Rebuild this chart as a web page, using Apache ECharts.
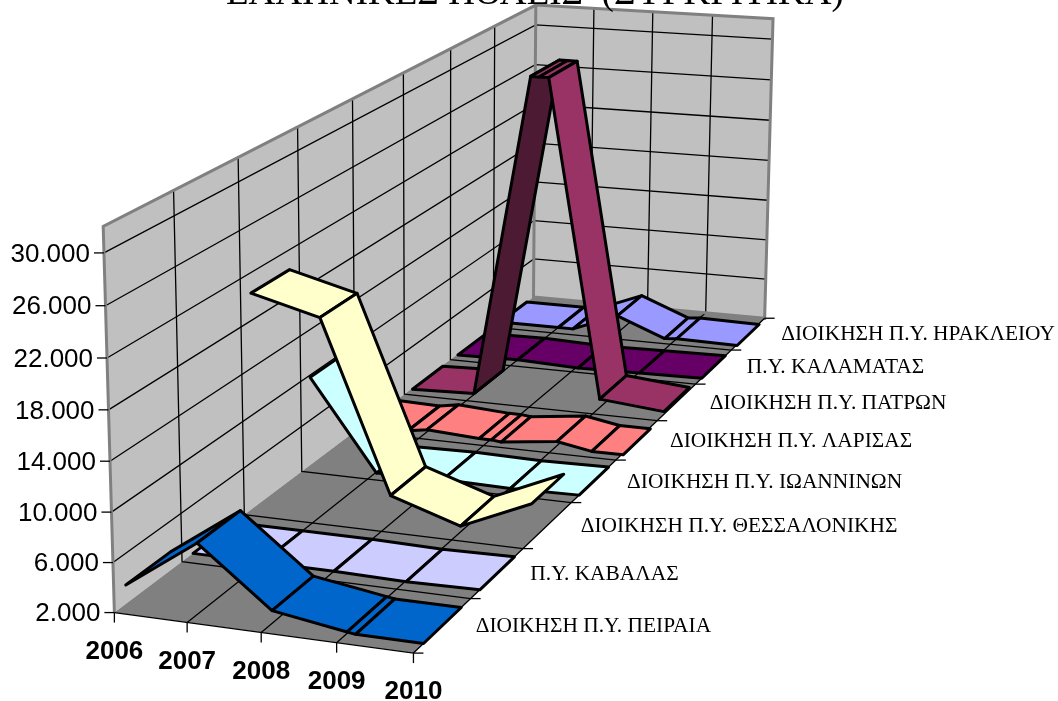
<!DOCTYPE html><html><head><meta charset="utf-8"><style>html,body{margin:0;background:#fff}#c{width:1058px;height:701px}</style>
<script src="https://cdn.jsdelivr.net/npm/echarts@6/dist/echarts.min.js"></script></head><body><div id="c"></div><script>
// ---------- data ----------
const YEARS=[2006,2007,2008,2009,2010];
const VALUE_TICKS=[2000,6000,10000,14000,18000,22000,26000,30000];
const VALUE_MIN=2000, VALUE_MAX=32000;
const SERIES_NAMES=['ΔΙΟΙΚΗΣΗ Π.Υ. ΠΕΙΡΑΙΑ','Π.Υ. ΚΑΒΑΛΑΣ','ΔΙΟΙΚΗΣΗ Π.Υ. ΘΕΣΣΑΛΟΝΙΚΗΣ','ΔΙΟΙΚΗΣΗ Π.Υ. ΙΩΑΝΝΙΝΩΝ','ΔΙΟΙΚΗΣΗ Π.Υ. ΛΑΡΙΣΑΣ','ΔΙΟΙΚΗΣΗ Π.Υ. ΠΑΤΡΩΝ','Π.Υ. ΚΑΛΑΜΑΤΑΣ','ΔΙΟΙΚΗΣΗ Π.Υ. ΗΡΑΚΛΕΙΟΥ'];
const PIRAEUS=[3500,7600,3000,2100,2000];
const KAVALA=[2000,2000,2000,1900,2000];
const THESSALONIKI=[20300,18800,4400,2500,5100];
const IOANNINA=[9800,1900,2000,1900,2000];
const LARISA=[2000,2200,1900,2400,1850];
const PATRAS=[1900,2100,32000,2800,2250];
const KALAMATA=[1900,2000,1800,1900,2000];
const HERAKLION=[2000,2000,3750,2000,1900];
const SERIES_VALUES=[PIRAEUS,KAVALA,THESSALONIKI,IOANNINA,LARISA,PATRAS,KALAMATA,HERAKLION];
// extra folds of a ribbon between years: [series index, year position, value]
const FOLDS=[[0,2009.11,2000],[4,2006.7,1900],[4,2007.81,1900],[4,2008.15,1800],[4,2009.53,1850],[5,2007.87,32000],[5,2008.15,32000],[7,2007.25,2000],[7,2008.8,1900]];
const COLORS=['#0066CC','#CCCCFF','#FFFFCC','#CCFFFF','#FF8080','#993366','#660066','#9999FF'];
const STEEP_COLOR='#4D1A33';
const TITLE='ΕΛΛΗΝΙΚΕΣ ΠΟΛΕΙΣ  (ΣΥΓΚΡΙΤΙΚΑ)';
// ---------- perspective camera: box corners [u,v,w] seen at [x,y] ----------
const CAMERA=[[0,0,0,115,613],[1,0,0,413,653],[1,1,0,765,318],[0,1,0,533,297],[0,0,1,103,226],[1,1,1,773,19],[0,1,1,536,5]];
const BAND_FRONT=0.17, BAND_BACK=0.83;
function solve(A,b){const n=b.length;A=A.map((r,i)=>[...r,b[i]]);for(let i=0;i<n;i++){let p=i;for(let k=i;k<n;k++)if(Math.abs(A[k][i])>Math.abs(A[p][i]))p=k;[A[i],A[p]]=[A[p],A[i]];for(let k=0;k<n;k++)if(k!=i){const f=A[k][i]/A[i][i];for(let j=i;j<=n;j++)A[k][j]-=f*A[i][j];}}return A.map((r,i)=>r[n]/r[i]);}
const P=(function(){const M=[],R=[];CAMERA.forEach(([u,v,w,x,y])=>{M.push([u,v,w,1,0,0,0,0,-x*u,-x*v,-x*w]);R.push(x);M.push([0,0,0,0,u,v,w,1,-y*u,-y*v,-y*w]);R.push(y);});
const N=Array.from({length:11},()=>Array(11).fill(0)),r=Array(11).fill(0);M.forEach((m,i)=>{for(let a=0;a<11;a++){r[a]+=m[a]*R[i];for(let b=0;b<11;b++)N[a][b]+=m[a]*m[b];}});return solve(N,r);})();
const G=100; // hidden grid is G×G px, the axes scale data into it
function cam(api,year,depth,value){const q=api.coord([year,value]);const u=q[0]/G,w=(G-q[1])/G,v=depth;const d=P[8]*u+P[9]*v+P[10]*w+1;return [(P[0]*u+P[1]*v+P[2]*w+P[3])/d,(P[4]*u+P[5]*v+P[6]*w+P[7])/d];}
const N=SERIES_NAMES.length, Y0=YEARS[0], Y1=YEARS[YEARS.length-1];
const dot=v=>String(v).replace(/\B(?=(\d{3})+$)/g,'.');
function line(pts,stroke,w){return {type:'polyline',shape:{points:pts},style:{stroke,lineWidth:w,fill:null}};}
function poly(pts,fill){return {type:'polygon',shape:{points:pts},style:{fill}};}
function txt(text,x,y,font,align){return {type:'text',style:{text,x,y,font,fill:'#000',textAlign:align,textVerticalAlign:'middle'}};}
function box(params,api){
 const c=[];const p=(y,d,v)=>cam(api,y,d,v);
 c.push(poly([p(Y0,0,VALUE_MIN),p(Y0,1,VALUE_MIN),p(Y0,1,VALUE_MAX),p(Y0,0,VALUE_MAX)],'#C0C0C0'));
 c.push(poly([p(Y0,1,VALUE_MIN),p(Y1,1,VALUE_MIN),p(Y1,1,VALUE_MAX),p(Y0,1,VALUE_MAX)],'#C0C0C0'));
 c.push(poly([p(Y0,0,VALUE_MIN),p(Y1,0,VALUE_MIN),p(Y1,1,VALUE_MIN),p(Y0,1,VALUE_MIN)],'#808080'));
 // gridlines
 VALUE_TICKS.forEach(t=>{if(t>VALUE_MIN)c.push(line([p(Y0,0,t),p(Y0,1,t),p(Y1,1,t)],'#000',1.3));});
 for(let i=1;i<N;i++)c.push(line([p(Y0,i/N,VALUE_MAX),p(Y0,i/N,VALUE_MIN),p(Y1,i/N,VALUE_MIN)],'#000',1.3));
 YEARS.slice(1,-1).forEach(y=>c.push(line([p(y,0,VALUE_MIN),p(y,1,VALUE_MIN),p(y,1,VALUE_MAX)],'#000',1.3)));
 // wall frame
 c.push(line([p(Y0,0,VALUE_MIN),p(Y0,0,VALUE_MAX),p(Y0,1,VALUE_MAX),p(Y1,1,VALUE_MAX),p(Y1,1,VALUE_MIN),p(Y0,1,VALUE_MIN),p(Y0,1,VALUE_MAX)],'#808080',3));
 c.push(line([p(Y0,0,VALUE_MIN),p(Y1,0,VALUE_MIN),p(Y1,1,VALUE_MIN)],'#000',1.3));
 // ticks and labels
 VALUE_TICKS.forEach(t=>{const a=p(Y0,0,t);c.push(line([[a[0]-10,a[1]],a],'#000',1.3));c.push(txt(dot(t),a[0]-14,a[1]+1.5,'26px "Liberation Sans"','right'));});
 YEARS.forEach(y=>{const a=p(y,0,VALUE_MIN);c.push(line([a,[a[0],a[1]+10]],'#000',1.3));c.push(txt(String(y),a[0],a[1]+39,'bold 26px "Liberation Sans"','center'));});
 for(let i=0;i<=N;i++){const a=p(Y1,i/N,VALUE_MIN);c.push(line([a,[a[0]+10,a[1]]],'#000',1.3));}
 SERIES_NAMES.forEach((n,i)=>{const a=p(Y1,(i+.5)/N,VALUE_MIN);c.push(txt(n,a[0]+33,a[1]+1,'21.4px "Liberation Serif"','left'));});
 return {type:'group',children:c};
}
function band(s){return function(params,api){
 const x0=api.value(0),v0=api.value(1),x1=api.value(2),v1=api.value(3);
 const d0=(s+BAND_FRONT)/N,d1=(s+BAND_BACK)/N;
 const steep=(v1-v0)/(x1-x0)>20000;
 const pts=[cam(api,x0,d0,v0),cam(api,x1,d0,v1),cam(api,x1,d1,v1),cam(api,x0,d1,v0)];
 return {type:'polygon',shape:{points:pts},style:{fill:steep?STEEP_COLOR:COLORS[s],stroke:'#000',lineWidth:3,lineJoin:'round'}};
};}
function segments(s){const n=YEARS.map((y,i)=>[y,SERIES_VALUES[s][i]]);FOLDS.forEach(f=>{if(f[0]===s)n.push([f[1],f[2]]);});n.sort((a,b)=>a[0]-b[0]);return n.slice(1).map((q,i)=>[n[i][0],n[i][1],q[0],q[1]]);}
const series=[{type:'custom',name:'box',coordinateSystem:'cartesian2d',clip:false,silent:true,z:1,data:[[Y0,VALUE_MIN]],renderItem:box,encode:{x:0,y:1}}];
for(let s=N-1;s>=0;s--)series.push({type:'custom',name:SERIES_NAMES[s],coordinateSystem:'cartesian2d',clip:false,silent:true,z:2+(N-s),data:segments(s),renderItem:band(s),encode:{x:[0,2],y:[1,3]}});
const chart=echarts.init(document.getElementById('c'),null,{renderer:'canvas'});
chart.setOption({animation:false,backgroundColor:'#fff',
 title:{text:TITLE,left:226,top:-24,padding:0,z:50,textStyle:{fontFamily:'Liberation Serif',fontWeight:'normal',fontSize:37,color:'#000'}},
 grid:{left:0,top:0,width:G,height:G,show:false},
 xAxis:{type:'value',min:Y0,max:Y1,show:false},
 yAxis:{type:'value',min:VALUE_MIN,max:VALUE_MAX,show:false},
 series});
</script></body></html>
